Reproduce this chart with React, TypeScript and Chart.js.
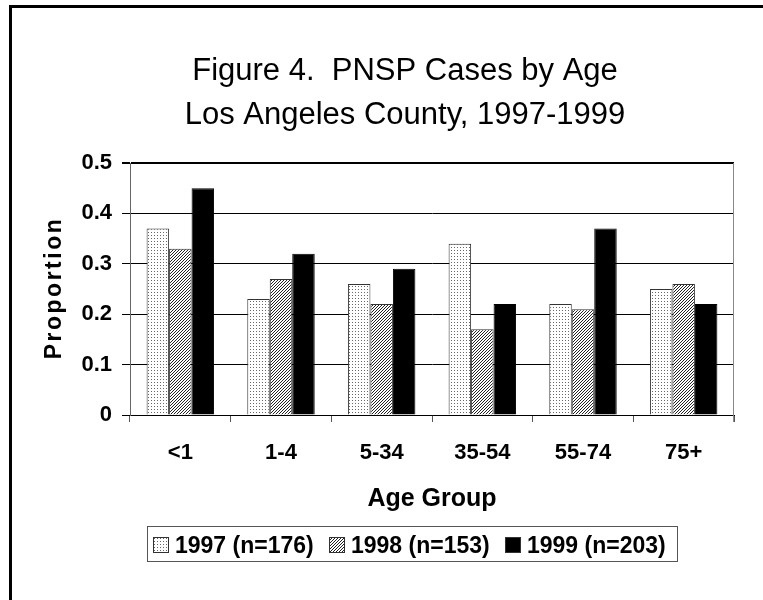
import React, { useEffect, useRef } from "react";
import { Chart, registerables } from "chart.js";

Chart.register(...registerables);

const categories = ["<1", "1-4", "5-34", "35-54", "55-74", "75+"];
const values1997 = [0.37, 0.23, 0.26, 0.34, 0.22, 0.25];
const values1998 = [0.33, 0.27, 0.22, 0.17, 0.21, 0.26];
const values1999 = [0.45, 0.32, 0.29, 0.22, 0.37, 0.22];
const seriesLabels = ["1997 (n=176)", "1998 (n=153)", "1999 (n=203)"];
const titleLines = ["Figure 4.  PNSP Cases by Age", "Los Angeles County, 1997-1999"];
const xTitle = "Age Group";
const yTitle = "Proportion";
const yMin = 0;
const yMax = 0.5;
const yStep = 0.1;

const FONT = '"Liberation Sans", Arial, Helvetica, sans-serif';

function makeDots(): CanvasPattern | string {
  const c = document.createElement("canvas");
  c.width = 3;
  c.height = 3;
  const g = c.getContext("2d")!;
  g.fillStyle = "#fff";
  g.fillRect(0, 0, 3, 3);
  g.fillStyle = "#666";
  g.fillRect(1, 1, 1, 1);
  return g.createPattern(c, "repeat") || "#eee";
}

function makeHatch(): CanvasPattern | string {
  const c = document.createElement("canvas");
  c.width = 3;
  c.height = 3;
  const g = c.getContext("2d")!;
  g.fillStyle = "#fff";
  g.fillRect(0, 0, 3, 3);
  g.fillStyle = "#222";
  g.fillRect(0, 2, 1, 1);
  g.fillRect(1, 1, 1, 1);
  g.fillRect(2, 0, 1, 1);
  return g.createPattern(c, "repeat") || "#999";
}

const decorPlugin = {
  id: "decor",
  afterDraw(chart: any) {
    const ctx: CanvasRenderingContext2D = chart.ctx;
    const ca = chart.chartArea;
    ctx.save();
    // outer frame
    ctx.strokeStyle = "#000";
    ctx.lineWidth = 3;
    ctx.strokeRect(10.5, 6.5, 2000, 2000);
    // plot right border
    ctx.strokeStyle = "#888";
    ctx.lineWidth = 1;
    ctx.beginPath();
    ctx.moveTo(Math.round(ca.right) - 0.5, ca.top);
    ctx.lineTo(Math.round(ca.right) - 0.5, ca.bottom + 7);
    ctx.stroke();
    // title
    ctx.fillStyle = "#000";
    ctx.textAlign = "center";
    ctx.textBaseline = "alphabetic";
    ctx.font = `31px ${FONT}`;
    ctx.fillText(titleLines[0], 405, 80);
    ctx.fillText(titleLines[1], 405, 124);
    // x title
    ctx.font = `bold 25px ${FONT}`;
    ctx.fillText(xTitle, (ca.left + ca.right) / 2, 506);
    // y title
    ctx.save();
    ctx.translate(61, (ca.top + ca.bottom) / 2);
    ctx.rotate(-Math.PI / 2);
    ctx.font = `bold 23px ${FONT}`;
    try {
      (ctx as any).letterSpacing = "2.5px";
    } catch (e) {}
    ctx.fillText(yTitle, 1, 0);
    ctx.restore();
    // legend
    const lx = 147.5, ly = 526.5, lw = 530, lh = 35;
    ctx.strokeStyle = "#555";
    ctx.lineWidth = 1;
    ctx.strokeRect(lx, ly, lw, lh);
    const swX = [153, 329, 505];
    ctx.font = `bold 23px ${FONT}`;
    ctx.textAlign = "left";
    chart.data.datasets.forEach((ds: any, i: number) => {
      const sx = swX[i];
      ctx.fillStyle = ds.backgroundColor;
      ctx.fillRect(sx, 537, 16, 16);
      ctx.strokeStyle = "#333";
      ctx.strokeRect(sx + 0.5, 537.5, 15, 15);
      ctx.fillStyle = "#000";
      ctx.fillText(ds.label, sx + 22, 553);
    });
    ctx.restore();
  },
};

export default function App() {
  const ref = useRef<HTMLCanvasElement | null>(null);
  useEffect(() => {
    document.body.style.margin = "0";
    const canvas = ref.current!;
    const dots = makeDots();
    const hatch = makeHatch();
    const chart = new Chart(canvas, {
      type: "bar",
      data: {
        labels: categories,
        datasets: [
          { label: seriesLabels[0], data: values1997, backgroundColor: dots as any, borderColor: "#333", borderWidth: 1 },
          { label: seriesLabels[1], data: values1998, backgroundColor: hatch as any, borderColor: "#333", borderWidth: 1 },
          { label: seriesLabels[2], data: values1999, backgroundColor: "#000", borderColor: "#000", borderWidth: 1 },
        ],
      },
      options: {
        responsive: false,
        animation: false,
        devicePixelRatio: 1,
        layout: { padding: { left: 0, top: 163, right: 29, bottom: 0 } },
        datasets: { bar: { categoryPercentage: 0.67, barPercentage: 1.0 } },
        plugins: { legend: { display: false }, title: { display: false }, tooltip: { enabled: false } },
        scales: {
          x: {
            afterFit: (s: any) => { s.height = 185; },
            grid: { display: true, drawOnChartArea: false, drawTicks: true, tickLength: 7, color: "#555", offset: true },
            border: { display: true, color: "#000", width: 1 },
            ticks: { color: "#000", font: { family: FONT, size: 22, weight: "bold" }, padding: 18, maxRotation: 0 },
          },
          y: {
            min: yMin,
            max: yMax,
            afterFit: (s: any) => { s.width = 130; },
            grid: {
              color: "#000",
              lineWidth: (c: any) => (c.tick && Math.abs(c.tick.value - yMax) < 1e-9 ? 2 : 1),
              tickLength: 8,
              drawTicks: true,
            },
            border: { display: true, color: "#666", width: 1 },
            ticks: {
              stepSize: yStep,
              color: "#000",
              padding: 10,
              font: { family: FONT, size: 22, weight: "bold" },
              callback: (v: any) => String(Math.round(Number(v) * 10) / 10),
            },
          },
        },
      },
      plugins: [decorPlugin],
    });
    return () => chart.destroy();
  }, []);
  return <canvas ref={ref} width={763} height={600} style={{ display: "block", width: 763, height: 600 }} />;
}
